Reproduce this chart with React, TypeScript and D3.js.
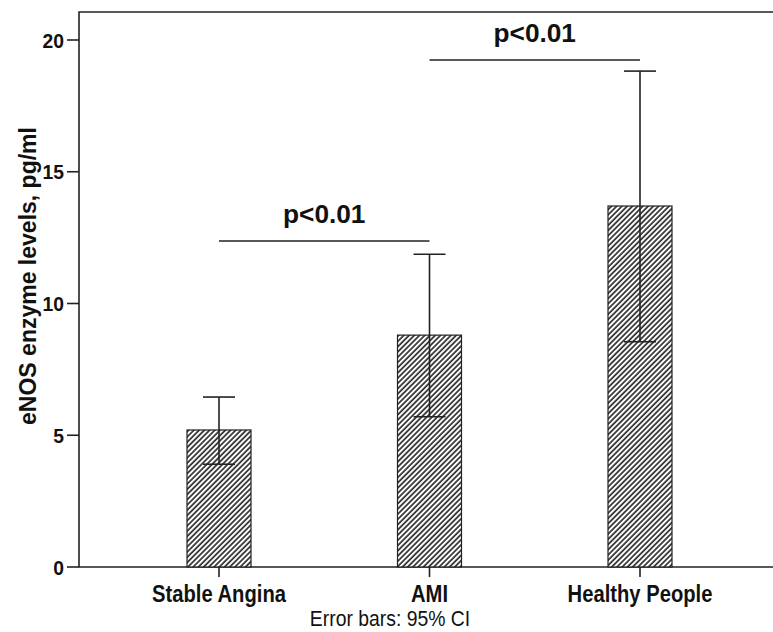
import React, { useEffect, useRef } from "react";
import * as d3 from "d3";

const categories = ["Stable Angina", "AMI", "Healthy People"];
const means = [5.2, 8.8, 13.7];
const ciLow = [3.9, 5.7, 8.55];
const ciHigh = [6.45, 11.87, 18.82];
const yTicks = [0, 5, 10, 15, 20];
const comparisons = [
	{ from: "Stable Angina", to: "AMI", level: 12.37, label: "p<0.01" },
	{ from: "AMI", to: "Healthy People", level: 19.24, label: "p<0.01" },
];

const App = () => {
	const ref = useRef<SVGSVGElement>(null);

	useEffect(() => {
		const width = 773;
		const margin = { top: 12, left: 79, bottom: 567 };
		const font = "'Liberation Sans', Arial, sans-serif";

		const svg = d3.select(ref.current);
		svg.selectAll("*").remove();

		const pattern = svg
			.append("defs")
			.append("pattern")
			.attr("id", "hatch")
			.attr("patternUnits", "userSpaceOnUse")
			.attr("width", 3.7)
			.attr("height", 3.7)
			.attr("patternTransform", "rotate(45)");
		pattern.append("rect").attr("width", 3.7).attr("height", 3.7).attr("fill", "#fff");
		pattern
			.append("line")
			.attr("x1", 1)
			.attr("x2", 1)
			.attr("y1", 0)
			.attr("y2", 3.7)
			.attr("stroke", "#111")
			.attr("stroke-width", 1.5);

		const y = d3.scaleLinear().domain([0, 20]).range([margin.bottom, 40]);
		const x = d3.scalePoint().domain(categories).range([219, 640]);
		const barW = 64;
		const capW = 32;

		// text helper: squeezed horizontally like the source image
		const label = (
			g: any,
			tx: number,
			ty: number,
			txt: string,
			size: number,
			sx: number,
			anchor: string,
			weight = "bold"
		) =>
			g
				.append("text")
				.attr("transform", `translate(${tx},${ty}) scale(${sx},1)`)
				.attr("text-anchor", anchor)
				.attr("font-family", font)
				.attr("font-size", size)
				.attr("font-weight", weight)
				.attr("fill", "#111")
				.text(txt);

		// frame
		svg
			.append("path")
			.attr("d", `M${width},${margin.top}H${margin.left}V${margin.bottom}H${width}`)
			.attr("fill", "none")
			.attr("stroke", "#222")
			.attr("stroke-width", 1.6);

		// bars
		svg
			.append("g")
			.selectAll("rect")
			.data(categories)
			.join("rect")
			.attr("x", (d) => x(d)! - barW / 2)
			.attr("width", barW)
			.attr("y", (d, i) => y(means[i]))
			.attr("height", (d, i) => y(0) - y(means[i]))
			.attr("fill", "url(#hatch)")
			.attr("stroke", "#222")
			.attr("stroke-width", 1.2);

		// error bars
		const err = svg.append("g").attr("stroke", "#222").attr("stroke-width", 1.6).attr("fill", "none");
		categories.forEach((c, i) => {
			const cx = x(c)!;
			err.append("line").attr("x1", cx).attr("x2", cx).attr("y1", y(ciLow[i])).attr("y2", y(ciHigh[i]));
			[ciLow[i], ciHigh[i]].forEach((v) => {
				err
					.append("line")
					.attr("x1", cx - capW / 2)
					.attr("x2", cx + capW / 2)
					.attr("y1", y(v))
					.attr("y2", y(v));
			});
		});

		// y axis ticks
		const yAxis = svg.append("g");
		yTicks.forEach((t) => {
			yAxis
				.append("line")
				.attr("x1", margin.left - 12)
				.attr("x2", margin.left)
				.attr("y1", y(t))
				.attr("y2", y(t))
				.attr("stroke", "#222")
				.attr("stroke-width", 1.6);
			label(yAxis, margin.left - 15, y(t) + 7.5, String(t), 21, 0.92, "end");
		});

		// x axis ticks + labels
		const xAxis = svg.append("g");
		categories.forEach((c) => {
			xAxis
				.append("line")
				.attr("x1", x(c)!)
				.attr("x2", x(c)!)
				.attr("y1", margin.bottom)
				.attr("y2", margin.bottom + 10)
				.attr("stroke", "#222")
				.attr("stroke-width", 1.6);
			label(xAxis, x(c)!, 602, c, 23.5, 0.86, "middle");
		});

		// comparisons
		comparisons.forEach((cmp) => {
			const x1 = x(cmp.from)!;
			const x2 = x(cmp.to)!;
			svg
				.append("line")
				.attr("x1", x1)
				.attr("x2", x2)
				.attr("y1", y(cmp.level))
				.attr("y2", y(cmp.level))
				.attr("stroke", "#222")
				.attr("stroke-width", 1.6);
			label(svg, (x1 + x2) / 2, y(cmp.level) - 18, cmp.label, 25, 1.05, "middle");
		});

		// y label
		svg
			.append("text")
			.attr("transform", `translate(36,276) rotate(-90)`)
			.attr("text-anchor", "middle")
			.attr("font-family", font)
			.attr("font-size", 23)
			.attr("font-weight", "bold")
			.attr("fill", "#111")
			.text("eNOS enzyme levels, pg/ml");

		// footnote
		label(svg, 390, 626, "Error bars: 95% CI", 22, 0.88, "middle", "normal");
	}, []);

	return (
		<svg
			ref={ref}
			width={773}
			height={632}
			style={{ position: "absolute", left: 0, top: 0, background: "#fff" }}
		/>
	);
};

export default App;
